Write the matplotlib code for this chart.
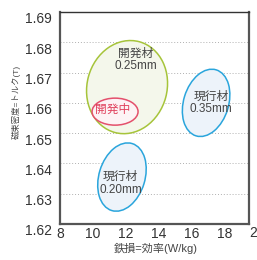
import matplotlib
matplotlib.use("Agg")
import matplotlib.pyplot as plt
from matplotlib.patches import Ellipse
from matplotlib.transforms import ScaledTranslation

plt.rcParams['font.family'] = ['Liberation Sans', 'Noto Sans CJK JP', 'DejaVu Sans']

# data (region centres)
names = ['開発材\n0.25mm', '開発中', '現行材\n0.35mm', '現行材\n0.20mm']
iron_loss = [12.08, 11.35, 16.89, 11.77]      # W/kg
flux = [1.6652, 1.6571, 1.6600, 1.6355]       # T
label_x = [12.60, 11.23, 17.19, 11.68]
label_y = [1.6742, 1.6576, 1.6600, 1.6335]
xticks = [8, 10, 12, 14, 16, 18, 20]
yticks = [1.62, 1.63, 1.64, 1.65, 1.66, 1.67, 1.68, 1.69]

# ellipse shapes in pixels: width, height, angle
shapes = [(94, 80, 75), (46, 27, 0), (69, 45, 73), (70, 46, 73)]
edges = ['#a6c43a', '#e4506c', '#2aa5dc', '#2aa5dc']
fills = ['#f4f7eb', '#fdf3f5', '#edf3fa', '#edf3fa']
text_colors = ['#444444', '#e0405c', '#444444', '#444444']

fig = plt.figure(figsize=(2.57, 2.60), dpi=100)
ax = fig.add_axes([60/257, 36/260, 189/257, 212/260])
ax.set_xlim(8, 19.5)
ax.set_ylim(1.62, 1.69)

for yv in yticks[1:-1]:
    ax.axhline(yv, color='#b0b0b0', lw=0.7, ls=(0, (1, 2)), zorder=0)

order = [0, 2, 3, 1]
for i in order:
    w, h, a = shapes[i]
    tr = fig.dpi_scale_trans + ScaledTranslation(iron_loss[i], flux[i], ax.transData)
    e = Ellipse((0, 0), w/100, h/100, angle=a, transform=tr,
                facecolor=fills[i], edgecolor=edges[i], lw=1.1, zorder=2 + order.index(i))
    ax.add_patch(e)
    ax.text(label_x[i], label_y[i], names[i], ha='center', va='center',
            fontsize=8.5, color=text_colors[i], linespacing=1.1, zorder=10)

ax.set_xticks(xticks[:-1])
ax.set_yticks(yticks)
ax.set_xticklabels([str(v) for v in xticks[:-1]])
ax.set_yticklabels([f'{v:.2f}' for v in yticks])
last = ax.text(xticks[-1], 1.62, str(xticks[-1]), ha='center', va='top',
               fontsize=10, color='#333333', clip_on=False)
ax.tick_params(length=0, labelsize=10, labelcolor='#333333')
ax.tick_params(axis='x', pad=2)
ax.tick_params(axis='y', pad=6)
# tick labels sit a bit below the grid lines
shift = ScaledTranslation(0, -6/100, fig.dpi_scale_trans)
for lab in ax.get_yticklabels():
    lab.set_transform(lab.get_transform() + shift)
last.set_transform(ax.transData + ScaledTranslation(0, -2/100, fig.dpi_scale_trans))

for s in ['left', 'bottom', 'right']:
    ax.spines[s].set_linewidth(1.6)
    ax.spines[s].set_color('#555555')
ax.spines['top'].set_linewidth(1.0)
ax.spines['top'].set_color('#333333')

ax.set_xlabel('鉄損=効率(W/kg)', fontsize=8, color='#444444')
ax.xaxis.set_label_coords(0.508, -0.116)
ax.xaxis.label.set_va('center')
ax.set_ylabel('磁束密度=トルク(T)', fontsize=6, color='#444444')
ax.yaxis.set_label_coords(-0.233, 0.575)
ax.yaxis.label.set_va('center')

fig.savefig('out.png', dpi=100)
